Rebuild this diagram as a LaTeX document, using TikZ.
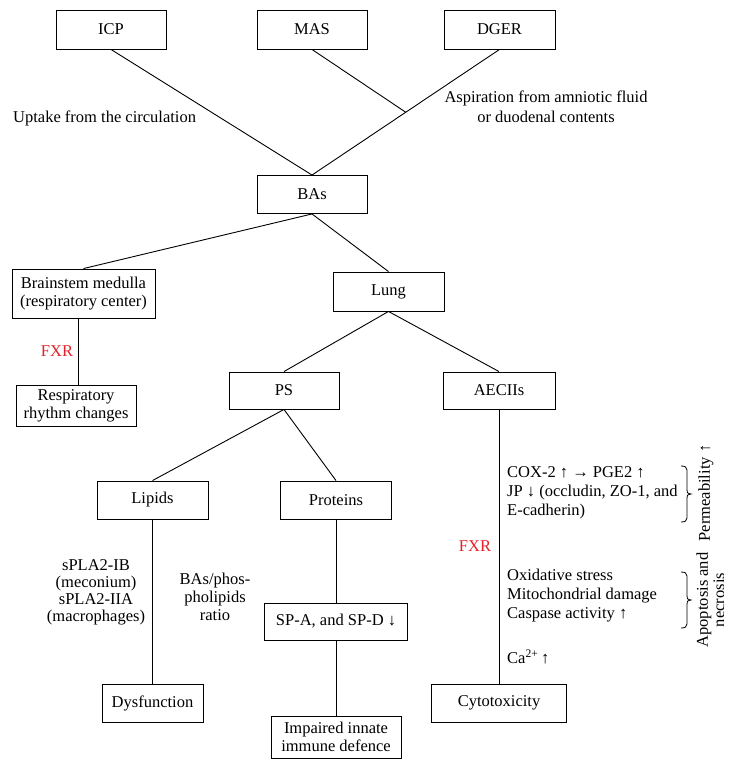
\documentclass[tikz,border=0pt]{standalone}
\usepackage{fontspec}
\setmainfont{Liberation Serif}
\usetikzlibrary{calc}
\definecolor{fxrred}{RGB}{228,32,40}
\begin{document}
\begin{tikzpicture}[x=1pt,y=-1pt,
  box/.style={draw, line width=0.9pt, inner sep=0pt, align=center, font=\fontsize{16.5}{18}\selectfont},
  lbl/.style={inner sep=0pt, font=\fontsize{16.5}{19}\selectfont},
  conn/.style={line width=0.9pt},
  brc/.style={line width=0.8pt}]
\useasboundingbox (0,0) rectangle (733,769);
% boxes
\node[box, minimum width=110pt, minimum height=39pt] (icp) at (111,29.5) {ICP};
\node[box, minimum width=110pt, minimum height=39pt] (mas) at (312,29.5) {MAS};
\node[box, minimum width=111pt, minimum height=39pt] (dger) at (499.5,29.5) {DGER};
\node[box, minimum width=110pt, minimum height=38pt] (bas) at (312,194.5) {BAs};
\node[box, minimum width=143pt, minimum height=49pt] (brain) at (83.5,293.5) {Brainstem medulla\\(respiratory center)};
\node[box, minimum width=111pt, minimum height=39pt] (lung) at (388.5,291.5) {Lung};
\node[box, minimum width=120pt, minimum height=41pt] (resp) at (76,405.5) {Respiratory\\rhythm changes};
\node[box, minimum width=110pt, minimum height=37pt] (ps) at (284,390.5) {PS};
\node[box, minimum width=112pt, minimum height=37pt] (aec) at (499,390.5) {AECIIs};
\node[box, minimum width=111pt, minimum height=38pt] (lip) at (152.5,500) {Lipids};
\node[box, minimum width=111pt, minimum height=38pt] (prot) at (336,500) {Proteins};
\node[box, minimum width=143pt, minimum height=37pt] (spa) at (336,621.5) {SP-A, and SP-D ↓};
\node[box, minimum width=101pt, minimum height=38pt] (dys) at (152.5,703) {Dysfunction};
\node[box, minimum width=130pt, minimum height=42pt] (imp) at (336,737) {Impaired innate\\immune defence};
\node[box, minimum width=135pt, minimum height=38pt] (cyto) at (499,703) {Cytotoxicity};
% connectors
\coordinate (jn) at ($(dger.south)!0.5!(bas.north)$);
\coordinate (bvx) at (78,0);
\draw[conn] (icp.south) -- (bas.north);
\draw[conn] (dger.south) -- (bas.north);
\draw[conn] (mas.south) -- (jn);
\draw[conn] (bas.south) -- (brain.north);
\draw[conn] (bas.south) -- (lung.north);
\draw[conn] (brain.south -| bvx) -- (resp.north -| bvx);
\draw[conn] (lung.south) -- (ps.north);
\draw[conn] (lung.south) -- (aec.north);
\draw[conn] (ps.south) -- (lip.north);
\draw[conn] (ps.south) -- (prot.north);
\draw[conn] (lip.south) -- (dys.north);
\draw[conn] (prot.south) -- (spa.north);
\draw[conn] (spa.south) -- (imp.north);
\draw[conn] (aec.south) -- (cyto.north);
% labels
\node[lbl, anchor=west] (uptake) at (13,118) {Uptake from the circulation};
\node[lbl, align=center, font=\fontsize{16.5}{20}\selectfont] (asp) at (546,107) {Aspiration from amniotic fluid\\or duodenal contents};
\node[lbl, text=fxrred] (fxr1) at (57,351) {FXR};
\node[lbl, text=fxrred] (fxr2) at (475,546) {FXR};
\node[lbl, align=center, font=\fontsize{16.5}{17}\selectfont] (spla) at (96,592.5) {sPLA2-IB\\(meconium)\\sPLA2-IIA\\(macrophages)};
\node[lbl, align=center, font=\fontsize{16.5}{18}\selectfont] (ratio) at (215,597) {BAs/phos-\\pholipids\\ratio};
\node[lbl, align=left, anchor=west] (perm) at (507,493) {COX-2 ↑ → PGE2 ↑\\JP ↓ (occludin, ZO-1, and\\E-cadherin)};
\node[lbl, align=left, anchor=west] (apo) at (507,596) {Oxidative stress\\Mitochondrial damage\\Caspase activity ↑};
\node[lbl, anchor=west] (ca) at (507,657) {Ca\textsuperscript{2+}\,↑};
% braces
\draw[brc] (681,466) .. controls (685,466) and (687,467) .. (687,470) -- (687,490) .. controls (687,493) .. (691,494) .. controls (687,495) .. (687,498) -- (687,518) .. controls (687,521) and (685,522) .. (681,522);
\draw[brc] (681,572) .. controls (685,572) and (687,573) .. (687,576) -- (687,596) .. controls (687,599) .. (691,600) .. controls (687,601) .. (687,604) -- (687,624) .. controls (687,627) and (685,628) .. (681,628);
\node[lbl, rotate=90] (permlbl) at (706,493) {Permeability ↑};
\node[lbl, rotate=90] (apolbl) at (704,600) {Apoptosis and};
\begin{scope}
\clip (690,540) rectangle (723,660);
\node[lbl, rotate=90] (necl) at (719,600) {necrosis};
\end{scope}
\end{tikzpicture}
\end{document}
